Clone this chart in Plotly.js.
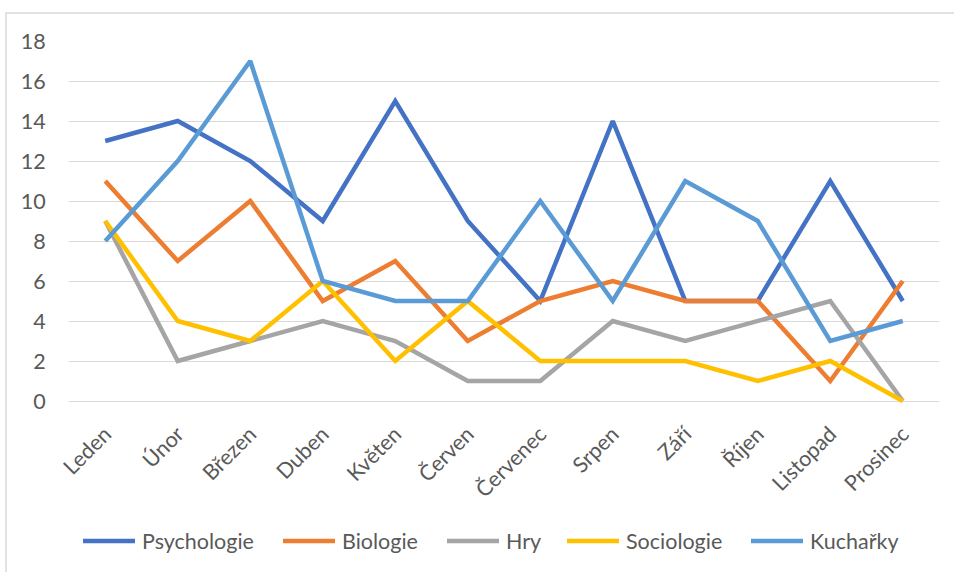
<!DOCTYPE html>
<html>
<head>
<meta charset="utf-8">
<script src="https://cdn.plot.ly/plotly-3.0.1.min.js"></script>
<style>
  body { margin: 0; background: #fff; }
  #chart { width: 954px; height: 572px; }
</style>
</head>
<body>
<div id="chart"></div>
<script>
// values
var months = ['Leden', 'Únor', 'Březen', 'Duben', 'Květen', 'Červen', 'Červenec', 'Srpen', 'Září', 'Říjen', 'Listopad', 'Prosinec']
var psychologie = [13, 14, 12, 9, 15, 9, 5, 14, 5, 5, 11, 5]
var biologie = [11, 7, 10, 5, 7, 3, 5, 6, 5, 5, 1, 6]
var hry = [9, 2, 3, 4, 3, 1, 1, 4, 3, 4, 5, 0]
var sociologie = [9, 4, 3, 6, 2, 5, 2, 2, 2, 1, 2, 0]
var kucharky = [8, 12, 17, 6, 5, 5, 10, 5, 11, 9, 3, 4]

var seriesNames = ['Psychologie', 'Biologie', 'Hry', 'Sociologie', 'Kuchařky']
var seriesValues = [psychologie, biologie, hry, sociologie, kucharky]
var seriesColors = ['#4472C4', '#ED7D31', '#A5A5A5', '#FFC000', '#5B9BD5']

var fontFamily = 'Lato, "Open Sans", sans-serif'
var fontSize = 21.5
var textColor = '#595959'

var W = 954, H = 572
var m = { l: 69, r: 15, t: 41, b: 168 }
var plotW = W - m.l - m.r
var plotH = H - m.t - m.b
function px2x(px) { return (px - m.l) / plotW }
function px2y(py) { return (H - m.b - py) / plotH }

var traces = seriesNames.map(function (name, i) {
    return {
        x: months,
        y: seriesValues[i],
        type: 'scatter',
        mode: 'lines',
        name: name,
        line: { color: seriesColors[i], width: 4.5 }
    }
})

// hand-drawn legend, Excel style: long line sample then the name
var legendLineStart = [81, 281, 445, 565, 749]
var legendLineLen = 56
var legendY = 541
var shapes = [
    // chart area border (left and top edges visible)
    {
        type: 'path', xref: 'paper', yref: 'paper', layer: 'below',
        path: 'M ' + px2x(6) + ' ' + px2y(H + 5) + ' L ' + px2x(6) + ' ' + px2y(13) + ' L ' + px2x(W + 5) + ' ' + px2y(13),
        line: { color: '#d9d9d9', width: 1.5 }
    }
]
var annotations = []
seriesNames.forEach(function (name, i) {
    var x0 = legendLineStart[i]
    shapes.push({
        type: 'line', xref: 'paper', yref: 'paper',
        x0: px2x(x0 + 2), x1: px2x(x0 + legendLineLen - 2),
        y0: px2y(legendY), y1: px2y(legendY),
        line: { color: seriesColors[i], width: 4.5 }
    })
    annotations.push({
        xref: 'paper', yref: 'paper',
        x: px2x(x0 + legendLineLen + 3), y: px2y(legendY),
        xanchor: 'left', yanchor: 'middle',
        text: name, showarrow: false,
        font: { family: fontFamily, size: fontSize, color: textColor }
    })
})

var layout = {
    width: W,
    height: H,
    margin: m,
    paper_bgcolor: '#fff',
    plot_bgcolor: '#fff',
    font: { family: fontFamily, size: fontSize, color: textColor },
    showlegend: false,
    xaxis: {
        type: 'category',
        range: [-0.5, 11.5],
        tickangle: -45,
        showgrid: false,
        zeroline: false,
        showline: false,
        ticks: 'outside',
        ticklen: 8,
        tickcolor: 'rgba(0,0,0,0)',
        tickfont: { family: fontFamily, size: fontSize, color: textColor }
    },
    yaxis: {
        range: [-0.15, 18],
        tickvals: [0, 2, 4, 6, 8, 10, 12, 14, 16, 18],
        showgrid: true,
        gridcolor: '#d9d9d9',
        gridwidth: 1.3,
        zeroline: false,
        showline: false,
        ticks: 'outside',
        ticklen: 18,
        tickcolor: 'rgba(0,0,0,0)',
        tickfont: { family: fontFamily, size: fontSize, color: textColor }
    },
    shapes: shapes,
    annotations: annotations
}

Plotly.newPlot('chart', traces, layout, { displayModeBar: false })
</script>
</body>
</html>
